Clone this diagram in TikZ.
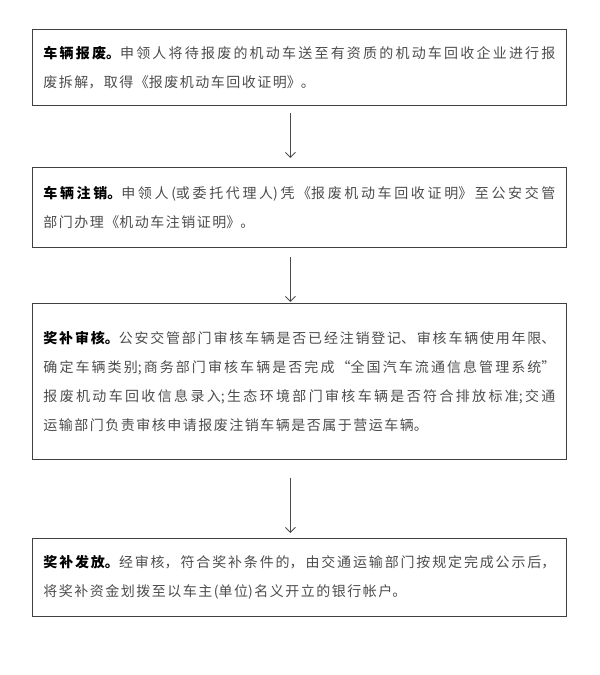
\documentclass[tikz,border=0pt]{standalone}
\usepackage{fontspec}
\setmainfont{Noto Sans CJK SC}
\usetikzlibrary{arrows.meta,positioning,calc}
\XeTeXlinebreaklocale "zh"
\XeTeXlinebreakskip=1.5pt plus 3pt minus 1pt
\setlength{\parindent}{0pt}
\definecolor{bodytext}{gray}{0.3}
\newcommand{\stephead}[1]{{\color{black}\bfseries #1}}
\tikzset{
  stepbox/.style={draw=black!75, line width=0.9pt, anchor=north west, align=justify,
    text width=512pt, inner xsep=11pt, inner ysep=0pt, minimum width=534pt,
    font=\fontsize{14}{29}\selectfont, text=bodytext},
  flow/.style={-{Straight Barb[length=5pt,width=10pt]}, draw=black!70, line width=0.9pt}
}

\begin{document}
\begin{tikzpicture}[x=1pt, y=-1pt]
\useasboundingbox (0,0) rectangle (600,675);
\node[stepbox, minimum height=76pt] (scrap) at (32,29)
  {\stephead{车辆报废。}申领人将待报废的机动车送至有资质的机动车回收企业进行报\linebreak
   废拆解，取得《报废机动车回收证明》。};
\node[stepbox, minimum height=80pt] (cancel) at (32,167)
  {\stephead{车辆注销。}申领人(或委托代理人)凭《报废机动车回收证明》至公安交管\linebreak
   部门办理《机动车注销证明》。};
\node[stepbox, minimum height=156pt] (review) at (32,303)
  {\stephead{奖补审核。}公安交管部门审核车辆是否已经注销登记、审核车辆使用年限、\linebreak
   确定车辆类别;商务部门审核车辆是否完成“全国汽车流通信息管理系统”\linebreak
   报废机动车回收信息录入;生态环境部门审核车辆是否符合排放标准;交通\linebreak
   运输部门负责审核申请报废注销车辆是否属于营运车辆。};
\node[stepbox, minimum height=78pt] (payout) at (32,538)
  {\stephead{奖补发放。}经审核，符合奖补条件的，由交通运输部门按规定完成公示后，\linebreak
   将奖补资金划拨至以车主(单位)名义开立的银行帐户。};

\draw[flow] ([xshift=-9pt,yshift=-7pt]scrap.south) -- ([xshift=-9pt,yshift=9pt]cancel.north);
\draw[flow] ([xshift=-9pt,yshift=-9pt]cancel.south) -- ([xshift=-9pt,yshift=1pt]review.north);
\draw[flow] ([xshift=-9pt,yshift=-18pt]review.south) -- ([xshift=-9pt,yshift=5pt]payout.north);
\end{tikzpicture}
\end{document}
